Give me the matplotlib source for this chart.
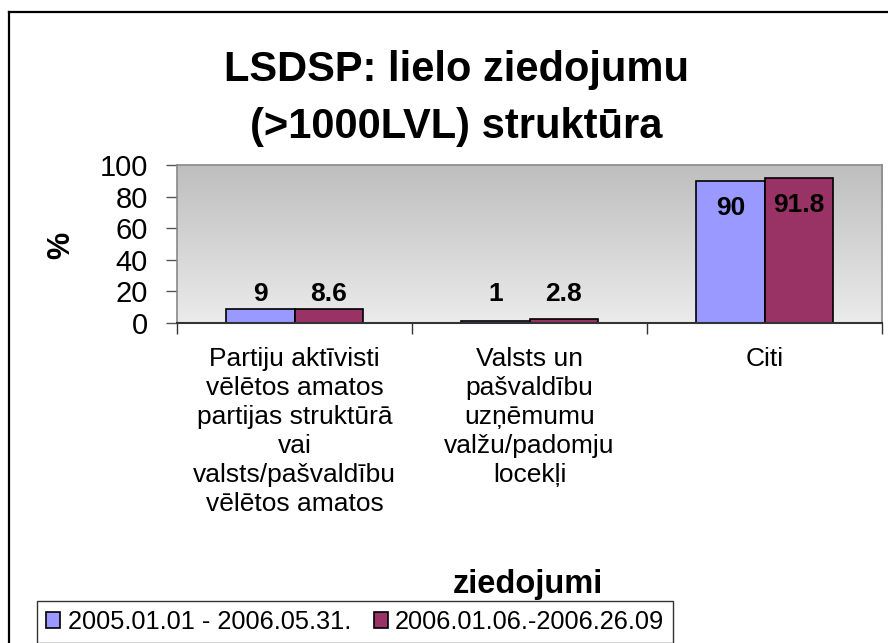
"""LSDSP large-donation structure chart."""

import matplotlib
matplotlib.use("Agg")
import matplotlib.pyplot as plt
import numpy as np
from matplotlib.lines import Line2D

plt.rcParams["font.family"] = ["Liberation Sans", "DejaVu Sans"]

categories = [
    "Partiju aktīvisti\nvēlētos amatos\npartijas struktūrā\nvai\nvalsts/pašvaldību\nvēlētos amatos",
    "Valsts un\npašvaldību\nuzņēmumu\nvalžu/padomju\nlocekļi",
    "Citi",
]
series_names = ["2005.01.01 - 2006.05.31.", "2006.01.06.-2006.26.09"]
period_1 = [9, 1, 90]
period_2 = [8.6, 2.8, 91.8]
colors = ["#9999ff", "#993366"]
yticks = [0, 20, 40, 60, 80, 100]

W, H = 888, 643
fig = plt.figure(figsize=(W / 100, H / 100), dpi=100)
ax = fig.add_axes([177 / W, 1 - 323 / H, (882 - 177) / W, (323 - 165) / H])

# grey gradient plot area
grad = np.linspace(0, 1, 256).reshape(-1, 1)
ax.imshow(grad, cmap=matplotlib.colors.LinearSegmentedColormap.from_list(
    "g", ["#bebebe", "#ebebeb"]), aspect="auto", extent=[0, 1, 0, 1],
    transform=ax.transAxes, zorder=0)

x = np.arange(len(categories))
w = 0.29
label_floor = 9
for i, (vals, col) in enumerate(zip([period_1, period_2], colors)):
    pos = x + (i - 0.5) * w
    ax.bar(pos, vals, width=w, color=col, edgecolor="black", linewidth=1.2,
           zorder=2, label=series_names[i])
    for px, v in zip(pos, vals):
        if v > 50:
            ax.annotate(f"{v:g}", (px, v), xytext=(0, -11), textcoords="offset points",
                        ha="center", va="top", fontsize=19, fontweight="bold", zorder=3)
        else:
            ax.annotate(f"{v:g}", (px, max(v, label_floor)), xytext=(0, 2),
                        textcoords="offset points", ha="center", va="bottom",
                        fontsize=19, fontweight="bold", zorder=3)

ax.set_xlim(-0.5, len(categories) - 0.5)
ax.set_ylim(0, 100)
ax.set_yticks(yticks)
ax.tick_params(axis="y", labelsize=21, length=8, width=1, color="#555555", pad=13)
ax.set_xticks(x, categories, fontsize=19, linespacing=1.27)
ax.tick_params(axis="x", which="major", length=0, pad=17)
ax.set_xticks(np.arange(len(categories) + 1) - 0.5, minor=True)
ax.tick_params(axis="x", which="minor", length=8, width=1, color="#333333")

for side in ["top", "right", "left"]:
    ax.spines[side].set_color("#888888")
    ax.spines[side].set_linewidth(1.2)
ax.spines["bottom"].set_color("#333333")
ax.spines["bottom"].set_linewidth(1.5)

fig.text(61 / W, 1 - 245 / H, "%", rotation=90, ha="center", va="center",
         fontsize=22, fontweight="bold")
fig.text(456 / W, 1 - 70 / H, "LSDSP: lielo ziedojumu", ha="center", va="center",
         fontsize=30, fontweight="bold")
fig.text(456 / W, 1 - 127 / H, "(>1000LVL) struktūra", ha="center", va="center",
         fontsize=30, fontweight="bold")
fig.text(528 / W, 1 - 584 / H, "ziedojumi", ha="center", va="center",
         fontsize=23.5, fontweight="bold")

leg = fig.legend(loc="upper left", bbox_to_anchor=(37 / W, 1 - 601 / H), ncol=2,
                 fontsize=18.3, frameon=True, fancybox=False, edgecolor="black",
                 borderaxespad=0, handlelength=0.55, handleheight=0.55,
                 handletextpad=0.3, columnspacing=0.9, borderpad=0.35)
leg.get_frame().set_linewidth(1)

# outer chart border
fig.add_artist(Line2D([9 / W, 9 / W], [0, 1 - 12 / H], color="black", lw=1.6,
                      transform=fig.transFigure))
fig.add_artist(Line2D([9 / W, 1], [1 - 12 / H, 1 - 12 / H], color="black", lw=1.6,
                      transform=fig.transFigure))

fig.savefig("out.png", dpi=100)
